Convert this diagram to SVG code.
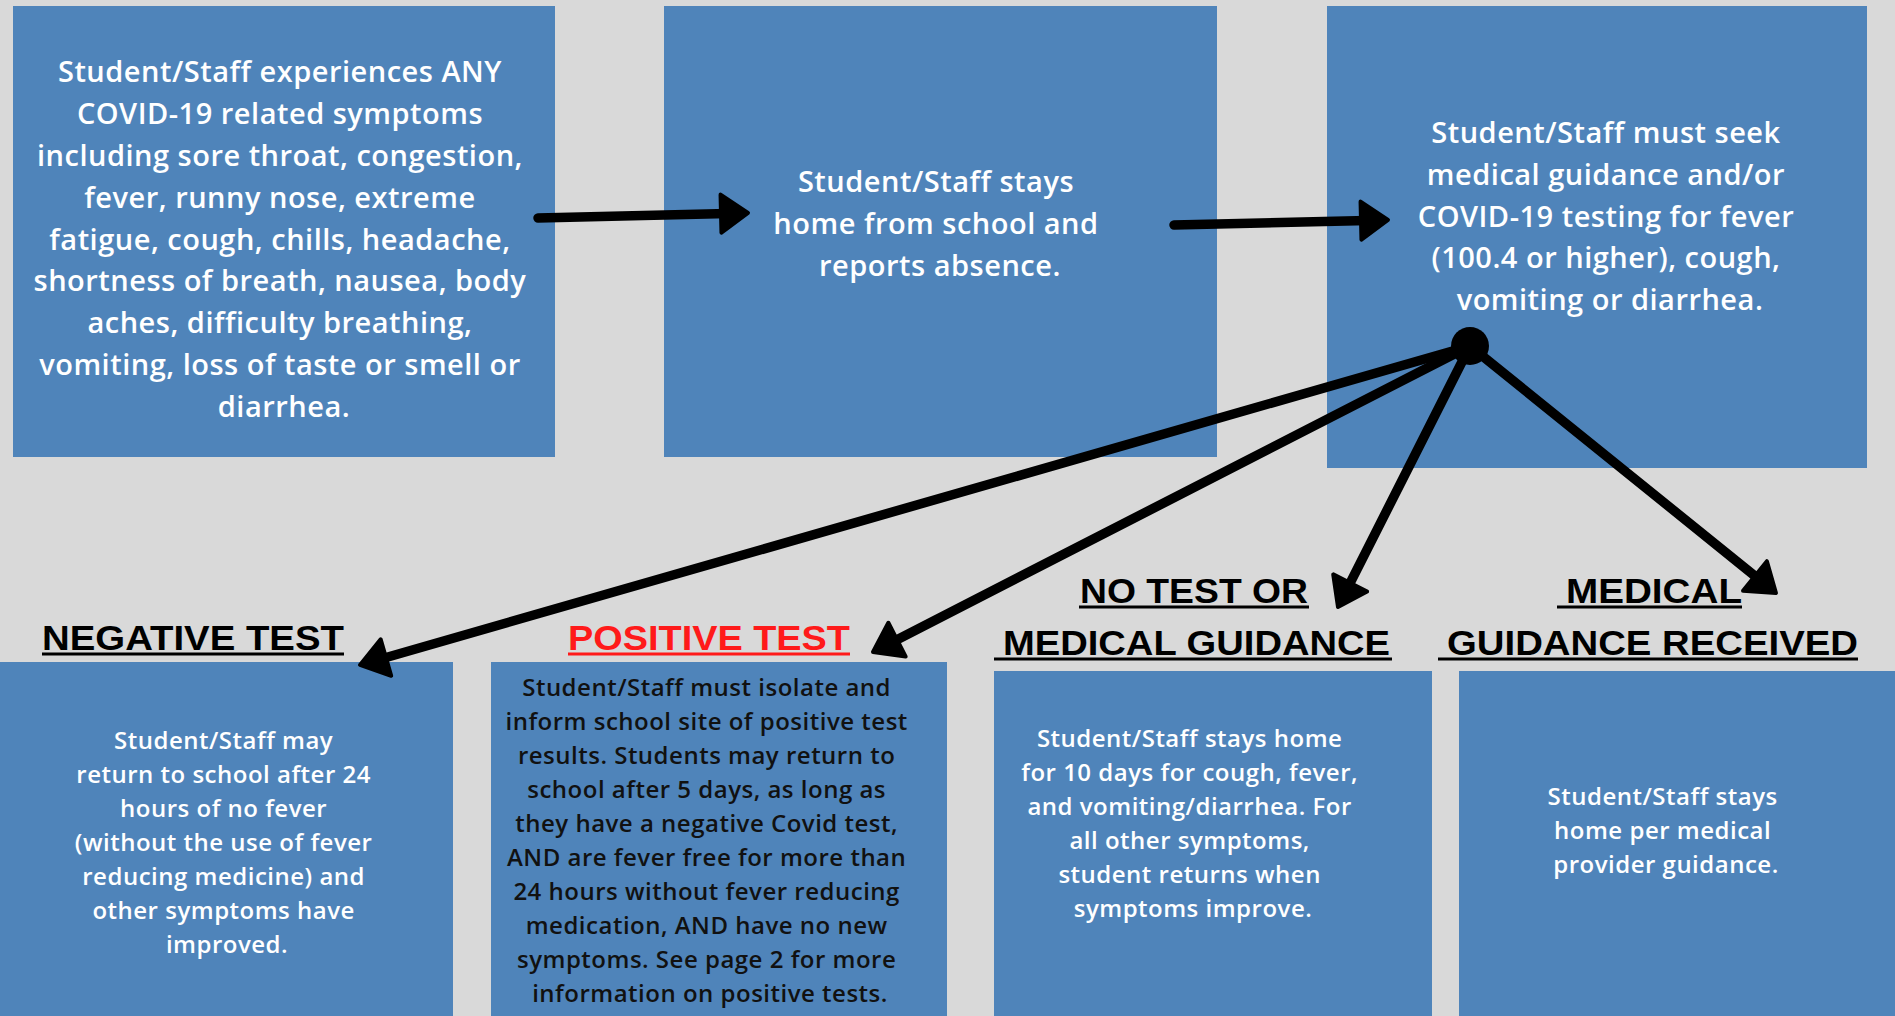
<svg xmlns="http://www.w3.org/2000/svg" width="1895" height="1016" viewBox="0 0 1895 1016">
<style>
.box{fill:#4f84ba}
.t{font-family:"Open Sans","Liberation Sans",sans-serif;font-weight:600;fill:#ffffff;text-anchor:middle}
.big{font-size:29px;letter-spacing:0.5px}
.small{font-size:24px;letter-spacing:0.5px}
.dark{fill:#111111}
.h{font-family:"Liberation Sans","Noto Sans",sans-serif;font-weight:700;font-size:35px;fill:#000000}
.red{fill:#ff1a1a}
.ul{stroke:#000000;stroke-width:3}
.ulr{stroke:#ff1a1a;stroke-width:3}
.c{stroke:#000000;stroke-width:9.5;stroke-linecap:round;fill:none;marker-end:url(#ah)}
</style>
<defs>
<marker id="ah" markerUnits="userSpaceOnUse" markerWidth="44" markerHeight="48" viewBox="-22 -24 44 48" refX="0" refY="0" orient="auto" overflow="visible">
<path d="M-17,-19 L10,0 L-17,19 Z" fill="#000000" stroke="#000000" stroke-width="4" stroke-linejoin="round"/>
</marker>
</defs>
<rect width="1895" height="1016" fill="#d9d9d9"/>

<g id="n1">
<rect class="box" x="13" y="6" width="542" height="451"/>
<text class="t big">
<tspan x="284" y="82">Student/Staff experiences ANY</tspan>
<tspan x="284" y="124">COVID-19 related symptoms</tspan>
<tspan x="284" y="166">including sore throat, congestion,</tspan>
<tspan x="284" y="208">fever, runny nose, extreme</tspan>
<tspan x="284" y="250">fatigue, cough, chills, headache,</tspan>
<tspan x="284" y="291">shortness of breath, nausea, body</tspan>
<tspan x="284" y="333">aches, difficulty breathing,</tspan>
<tspan x="284" y="375">vomiting, loss of taste or smell or</tspan>
<tspan x="284" y="417">diarrhea.</tspan>
</text>
</g>

<g id="n2">
<rect class="box" x="664" y="6" width="553" height="451"/>
<text class="t big">
<tspan x="940" y="192">Student/Staff stays</tspan>
<tspan x="940" y="234">home from school and</tspan>
<tspan x="940" y="276">reports absence.</tspan>
</text>
</g>

<g id="n3">
<rect class="box" x="1327" y="6" width="540" height="462"/>
<text class="t big">
<tspan x="1610" y="143">Student/Staff must seek</tspan>
<tspan x="1610" y="185">medical guidance and/or</tspan>
<tspan x="1610" y="227">COVID-19 testing for fever</tspan>
<tspan x="1610" y="268">(100.4 or higher), cough,</tspan>
<tspan x="1610" y="310">vomiting or diarrhea.</tspan>
</text>
</g>

<g id="n4">
<text class="h" x="42" y="650" textLength="302" lengthAdjust="spacingAndGlyphs">NEGATIVE TEST</text>
<line class="ul" x1="42" y1="654" x2="344" y2="654"/>
<rect class="box" x="0" y="662" width="453" height="354"/>
<text class="t small">
<tspan x="227" y="749">Student/Staff may</tspan>
<tspan x="227" y="783">return to school after 24</tspan>
<tspan x="227" y="817">hours of no fever</tspan>
<tspan x="227" y="851">(without the use of fever</tspan>
<tspan x="227" y="885">reducing medicine) and</tspan>
<tspan x="227" y="919">other symptoms have</tspan>
<tspan x="227" y="953">improved.</tspan>
</text>
</g>

<g id="n5">
<text class="h red" x="568" y="650" textLength="282" lengthAdjust="spacingAndGlyphs">POSITIVE TEST</text>
<line class="ulr" x1="568" y1="654" x2="850" y2="654"/>
<rect class="box" x="491" y="662" width="456" height="354"/>
<text class="t small dark">
<tspan x="710" y="696">Student/Staff must isolate and</tspan>
<tspan x="710" y="730">inform school site of positive test</tspan>
<tspan x="710" y="764">results.  Students may return to</tspan>
<tspan x="710" y="798">school after 5 days, as long as</tspan>
<tspan x="710" y="832">they have a negative Covid test,</tspan>
<tspan x="710" y="866">AND are fever free for more than</tspan>
<tspan x="710" y="900">24 hours without fever reducing</tspan>
<tspan x="710" y="934">medication, AND have no new</tspan>
<tspan x="710" y="968">symptoms. See page 2 for more</tspan>
<tspan x="710" y="1002">information on positive tests.</tspan>
</text>
</g>

<g id="n6">
<text class="h" x="1080" y="603" textLength="228" lengthAdjust="spacingAndGlyphs">NO TEST OR</text>
<line class="ul" x1="1079" y1="607" x2="1309" y2="607"/>
<text class="h" x="1003" y="655" textLength="387" lengthAdjust="spacingAndGlyphs">MEDICAL GUIDANCE</text>
<line class="ul" x1="994" y1="659" x2="1392" y2="659"/>
<rect class="box" x="994" y="671" width="438" height="345"/>
<text class="t small">
<tspan x="1193" y="747">Student/Staff stays home</tspan>
<tspan x="1193" y="781">for 10 days for cough, fever,</tspan>
<tspan x="1193" y="815">and vomiting/diarrhea. For</tspan>
<tspan x="1193" y="849">all other symptoms,</tspan>
<tspan x="1193" y="883">student returns when</tspan>
<tspan x="1193" y="917">symptoms improve.</tspan>
</text>
</g>

<g id="n7">
<text class="h" x="1566" y="603" textLength="176" lengthAdjust="spacingAndGlyphs">MEDICAL</text>
<line class="ul" x1="1557" y1="607" x2="1742" y2="607"/>
<text class="h" x="1447" y="655" textLength="411" lengthAdjust="spacingAndGlyphs">GUIDANCE RECEIVED</text>
<line class="ul" x1="1438" y1="659" x2="1858" y2="659"/>
<rect class="box" x="1459" y="671" width="436" height="345"/>
<text class="t small">
<tspan x="1666" y="805">Student/Staff stays</tspan>
<tspan x="1666" y="839">home per medical</tspan>
<tspan x="1666" y="873">provider guidance.</tspan>
</text>
</g>

<g id="connectors">
<line class="c" x1="538" y1="218" x2="738" y2="213.2"/>
<line class="c" x1="1174" y1="225" x2="1378" y2="220.2"/>
<circle cx="1470" cy="346" r="19" fill="#000000"/>
<line class="c" x1="1470" y1="346" x2="369.6" y2="662.2"/>
<line class="c" x1="1470" y1="346" x2="881.9" y2="647.4"/>
<line class="c" x1="1470" y1="346" x2="1342.5" y2="598.1"/>
<line class="c" x1="1470" y1="346" x2="1768.2" y2="586.7"/>
</g>
</svg>
